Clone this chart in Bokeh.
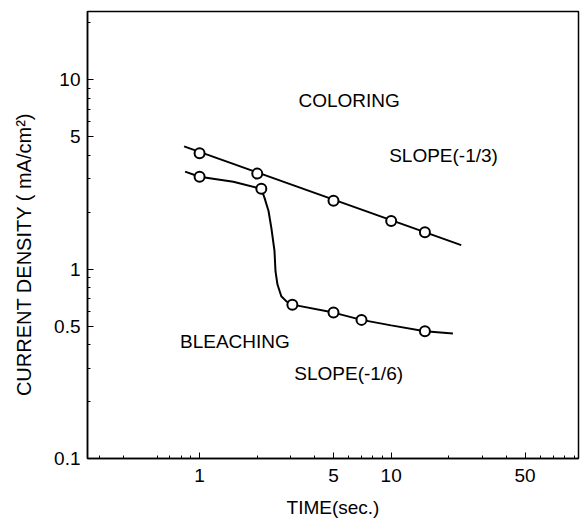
from bokeh.plotting import figure
from bokeh.models import Range1d, FixedTicker
from bokeh.core.properties import value
from bokeh.embed import file_html
from bokeh.resources import INLINE

# Data
col_t = [1, 2, 5, 10, 15]
col_j = [4.1, 3.2, 2.3, 1.8, 1.57]
col_fit_t = [0.83, 23.2]
col_fit_j = [4.46, 1.34]

bl_t = [1, 2.1, 3.05, 5, 7, 15]
bl_j = [3.08, 2.66, 0.65, 0.59, 0.54, 0.47]
bl_curve_t = [0.84, 1.0, 1.5, 2.1, 2.18, 2.29, 2.37, 2.46, 2.49, 2.55, 2.67, 2.84, 3.05, 5, 7, 10, 15, 21]
bl_curve_j = [3.28, 3.08, 2.9, 2.66, 2.39, 2.03, 1.65, 1.25, 0.976, 0.83, 0.72, 0.676, 0.65, 0.59, 0.54, 0.505, 0.47, 0.457]

label_text = ["COLORING", "SLOPE(-1/3)", "BLEACHING", "SLOPE(-1/6)"]
label_x = [3.28, 9.76, 0.79, 3.12]
label_y = [7.8, 4.0, 0.414, 0.28]

x_major = [1, 5, 10, 50]
x_minor = [0.3, 0.4, 0.6, 0.7, 0.8, 0.9, 2, 3, 4, 6, 7, 8, 9, 20, 30, 40, 60, 70, 80, 90]
y_major = [0.1, 0.5, 1, 5, 10]
y_minor = [0.2, 0.3, 0.4, 0.6, 0.7, 0.8, 0.9, 2, 3, 4, 6, 7, 8, 9, 20]

FONT = "Liberation Sans"

p = figure(width=582, height=528, x_axis_type="log", y_axis_type="log",
           x_range=Range1d(0.26, 95), y_range=Range1d(0.1, 23),
           output_backend="svg", toolbar_location=None,
           min_border_left=87, min_border_right=4, min_border_top=11, min_border_bottom=70)

p.xgrid.visible = False
p.ygrid.visible = False
p.outline_line_color = "black"
p.outline_line_width = 1.5
p.outline_line_alpha = 1.0
p.background_fill_color = "white"
p.border_fill_color = "white"

p.xaxis.ticker = FixedTicker(ticks=x_major, minor_ticks=x_minor)
p.yaxis.ticker = FixedTicker(ticks=y_major, minor_ticks=y_minor)
p.xaxis.major_label_overrides = {1: "1", 5: "5", 10: "10", 50: "50"}
p.yaxis.major_label_overrides = {0.1: "0.1", 0.5: "0.5", 1: "1", 5: "5", 10: "10"}

for ax in (p.xaxis, p.yaxis):
    ax.axis_line_color = "black"
    ax.axis_line_width = 1.5
    ax.major_tick_in = 6
    ax.major_tick_out = 0
    ax.minor_tick_in = 3
    ax.minor_tick_out = 0
    ax.major_tick_line_color = "black"
    ax.minor_tick_line_color = "black"
    ax.major_label_text_font = FONT
    ax.major_label_text_font_size = "19px"
    ax.major_label_text_color = "black"
    ax.axis_label_text_font = FONT
    ax.axis_label_text_font_size = "19px"
    ax.axis_label_text_font_style = "normal"
    ax.axis_label_text_color = "black"

p.xaxis.axis_label = "TIME(sec.)"
p.yaxis.axis_label = "CURRENT DENSITY ( mA/cm\u00b2)" + "\u00a0" * 7
p.yaxis.axis_label_text_font_size = "20px"
p.xaxis.major_label_standoff = 10
p.xaxis.axis_label_standoff = 12
p.yaxis.major_label_standoff = 7
p.yaxis.axis_label_standoff = 16

p.line(col_fit_t, col_fit_j, line_color="black", line_width=2)
p.line(bl_curve_t, bl_curve_j, line_color="black", line_width=2)
p.scatter(col_t, col_j, marker="circle", size=10, fill_color="white", line_color="black", line_width=2)
p.scatter(bl_t, bl_j, marker="circle", size=10, fill_color="white", line_color="black", line_width=2)

p.text(x=label_x, y=label_y, text=label_text, text_font=value(FONT), text_font_size="19px",
       text_align="left", text_baseline="middle", text_color="black")

open("out.html", "w").write(file_html(p, INLINE))
